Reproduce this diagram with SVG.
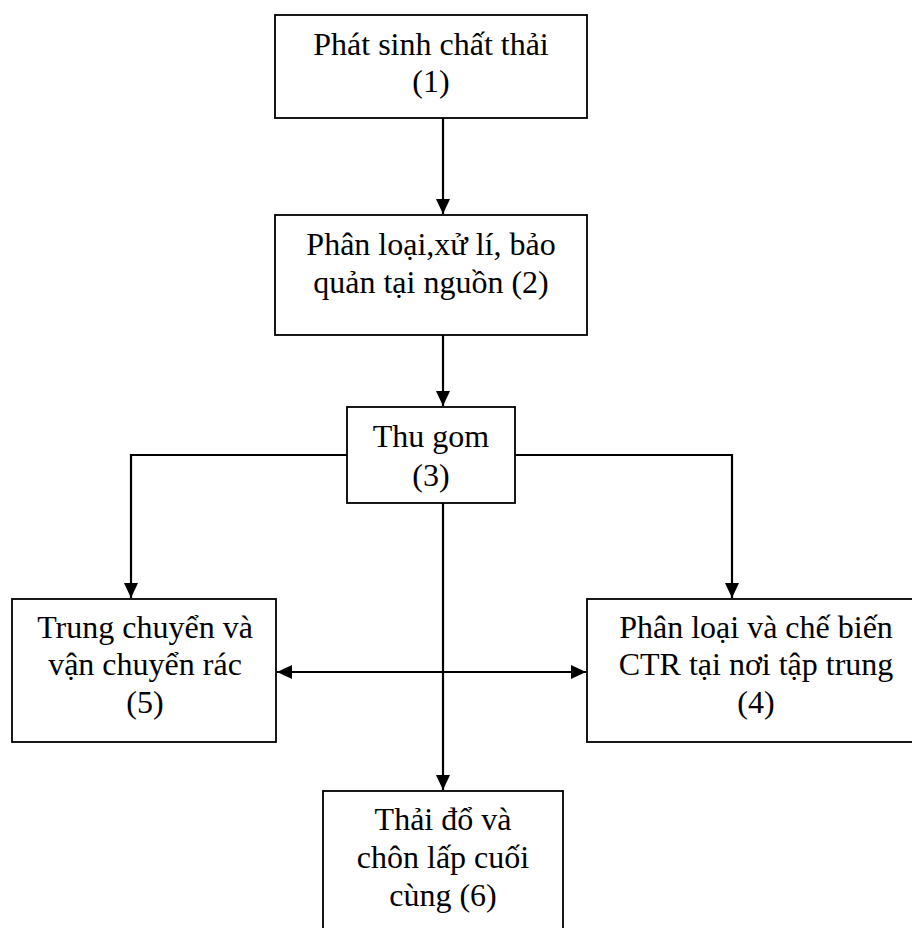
<svg xmlns="http://www.w3.org/2000/svg" width="912" height="928" viewBox="0 0 912 928">
  <style>
    .box { fill: #ffffff; stroke: #000000; stroke-width: 1.8; }
    .lbl { font-family: "Liberation Serif", "Times New Roman", serif; font-size: 32px; fill: #000000; text-anchor: middle; }
    .wire { fill: none; stroke: #000000; stroke-width: 2.2; }
  </style>
  <defs>
    <marker id="arrow" viewBox="0 0 15 14" refX="15" refY="7" markerWidth="15" markerHeight="14" markerUnits="userSpaceOnUse" orient="auto-start-reverse">
      <path d="M0,0 L15,7 L0,14 Z" fill="#000000"/>
    </marker>
  </defs>

  <rect width="912" height="928" fill="#ffffff"/>

  <!-- connectors -->
  <g id="connectors">
    <line class="wire" x1="443" y1="118" x2="443" y2="214" marker-end="url(#arrow)"/>
    <line class="wire" x1="443" y1="335" x2="443" y2="406" marker-end="url(#arrow)"/>
    <polyline class="wire" points="347,455 131,455 131,598" marker-end="url(#arrow)"/>
    <polyline class="wire" points="515,455 732,455 732,598" marker-end="url(#arrow)"/>
    <line class="wire" x1="443" y1="503" x2="443" y2="790" marker-end="url(#arrow)"/>
    <line class="wire" x1="277" y1="672" x2="586" y2="672" marker-start="url(#arrow)" marker-end="url(#arrow)"/>
  </g>

  <!-- (1) waste generation -->
  <g id="node1">
    <rect class="box" x="275" y="15" width="312" height="103"/>
    <text class="lbl" x="431" y="55">Phát sinh chất thải</text>
    <text class="lbl" x="431" y="92">(1)</text>
  </g>

  <!-- (2) sorting at source -->
  <g id="node2">
    <rect class="box" x="275" y="215" width="312" height="120"/>
    <text class="lbl" x="431" y="255">Phân loại,xử lí, bảo</text>
    <text class="lbl" x="431" y="293">quản tại nguồn (2)</text>
  </g>

  <!-- (3) collection -->
  <g id="node3">
    <rect class="box" x="347" y="407" width="168" height="96"/>
    <text class="lbl" x="431" y="447">Thu gom</text>
    <text class="lbl" x="431" y="486">(3)</text>
  </g>

  <!-- (5) transfer and transport -->
  <g id="node5">
    <rect class="box" x="12" y="599" width="264" height="143"/>
    <text class="lbl" x="145" y="638">Trung chuyển và</text>
    <text class="lbl" x="145" y="675">vận chuyển rác</text>
    <text class="lbl" x="145" y="713">(5)</text>
  </g>

  <!-- (4) central sorting and processing -->
  <g id="node4">
    <rect class="box" x="587" y="599" width="340" height="143"/>
    <text class="lbl" x="756" y="638">Phân loại và chế biến</text>
    <text class="lbl" x="756" y="675">CTR tại nơi tập trung</text>
    <text class="lbl" x="756" y="713">(4)</text>
  </g>

  <!-- (6) final disposal -->
  <g id="node6">
    <rect class="box" x="323" y="791" width="240" height="150"/>
    <text class="lbl" x="443" y="830">Thải đổ và</text>
    <text class="lbl" x="443" y="868">chôn lấp cuối</text>
    <text class="lbl" x="443" y="906">cùng (6)</text>
  </g>
</svg>
